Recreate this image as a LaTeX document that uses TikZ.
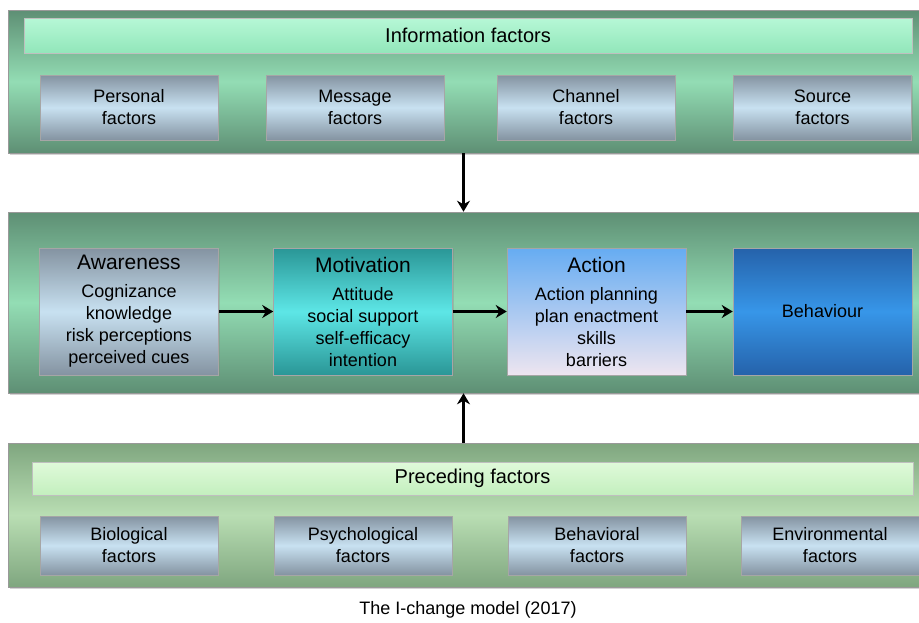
\documentclass[tikz,border=0pt]{standalone}
\usepackage{fontspec}
\setmainfont{Liberation Sans}
\usetikzlibrary{shadows, arrows.meta}

\definecolor{panelDark}{HTML}{5E8F74}
\definecolor{panelLight}{HTML}{93DDB4}
\definecolor{headTop}{HTML}{B6F8D6}
\definecolor{headBot}{HTML}{92E6BA}
\definecolor{preDark}{HTML}{7FA67F}
\definecolor{preLight}{HTML}{B9DEB3}
\definecolor{preHeadTop}{HTML}{E0FADA}
\definecolor{preHeadBot}{HTML}{C3EFBE}
\definecolor{boxGray}{HTML}{8493A1}
\definecolor{boxLight}{HTML}{C8E1F1}
\definecolor{tealDark}{HTML}{2A9696}
\definecolor{tealLight}{HTML}{5DE6E6}
\definecolor{actTop}{HTML}{66ACF2}
\definecolor{actBot}{HTML}{EDE5F0}
\definecolor{behDark}{HTML}{2562AA}
\definecolor{behLight}{HTML}{3796E8}

\tikzset{
  panel/.style={draw=black!40, line width=0.6pt, inner sep=0pt,
    top color=panelDark, bottom color=panelDark, middle color=panelLight,
    minimum width=911pt, minimum height=#1,
    drop shadow={opacity=0.35, shadow xshift=1.5pt, shadow yshift=-1.5pt}},
  prepanel/.style={panel=#1, top color=preDark, bottom color=preDark, middle color=preLight},
  headbar/.style={draw=black!25, line width=0.5pt, inner sep=0pt,
    top color=headTop, bottom color=headBot, minimum height=#1,
    font=\fontsize{20}{24}\selectfont},
  factor/.style={draw=black!35, line width=0.5pt, inner sep=0pt, align=center,
    top color=boxGray, bottom color=boxGray, middle color=boxLight,
    minimum width=178pt, minimum height=#1,
    font=\fontsize{18}{22}\selectfont,
    drop shadow={opacity=0.3, shadow xshift=1pt, shadow yshift=-1pt}},
  stage/.style={factor=127pt, minimum width=179pt},
  flow/.style={line width=3.6pt, -{Stealth[length=11pt,width=13pt]}},
  caption/.style={font=\fontsize{18}{21}\selectfont}
}

\newcommand{\stagetitle}[1]{{\fontsize{21}{26}\selectfont #1}\\[6pt]}

\begin{document}
\begin{tikzpicture}[x=1pt, y=-1pt]
  \useasboundingbox (0,0) rectangle (919,622);

  % information factors
  \node[panel=143pt] (info) at (463.5,81.5) {};
  \node[headbar=35pt, minimum width=888pt] (infohead) at (468,35.5) {Information factors};
  \node[factor=65pt] (personal) at (129,107.5) {Personal\\factors};
  \node[factor=65pt] (message) at (355,107.5) {Message\\factors};
  \node[factor=65pt] (channel) at (586,107.5) {Channel\\factors};
  \node[factor=65pt] (source) at (822.5,107.5) {Source\\factors};

  % stages
  \node[panel=181pt] (stages) at (463.5,302.5) {};
  \node[stage] (aware) at (129,311.5) {\stagetitle{Awareness}Cognizance\\knowledge\\risk perceptions\\perceived cues};
  \node[stage, top color=tealDark, bottom color=tealDark, middle color=tealLight] (motiv) at (363,311.5)
    {\stagetitle{Motivation}Attitude\\social support\\self-efficacy\\intention};
  \node[stage, top color=actTop, bottom color=actBot] (action) at (596.5,311.5)
    {\stagetitle{Action}Action planning\\plan enactment\\skills\\barriers};
  \node[stage, top color=behDark, bottom color=behDark, middle color=behLight] (behav) at (822.5,311.5) {Behaviour};

  \draw[flow] (aware) -- (motiv);
  \draw[flow] (motiv) -- (action);
  \draw[flow] (action) -- (behav);

  % preceding factors
  \node[prepanel=144pt] (prec) at (463.5,515) {};
  \node[headbar=33pt, minimum width=881pt, top color=preHeadTop, bottom color=preHeadBot] (prechead) at (472.5,478.5) {Preceding factors};
  \node[factor=59pt] (bio) at (129,545.5) {Biological\\factors};
  \node[factor=59pt] (psych) at (363,545.5) {Psychological\\factors};
  \node[factor=59pt] (behfac) at (597,545.5) {Behavioral\\factors};
  \node[factor=59pt] (env) at (830,545.5) {Environmental\\factors};

  \draw[flow] (info) -- (stages);
  \draw[flow] (prec) -- (stages);

  \node[caption] (title) at (468,610) {The I-change model (2017)};
\end{tikzpicture}
\end{document}
